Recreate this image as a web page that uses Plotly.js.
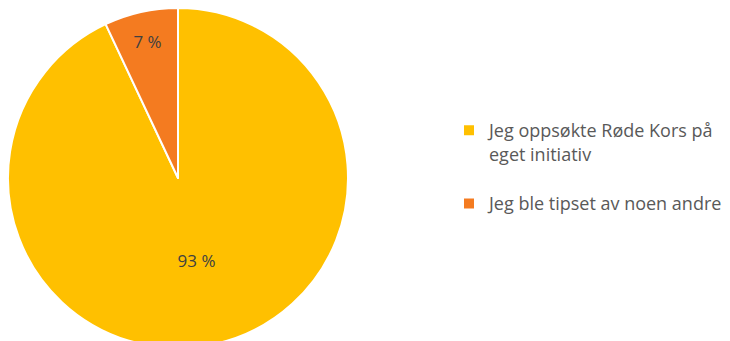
<!DOCTYPE html>
<html>
<head>
<meta charset="utf-8">
<script src="https://cdn.plot.ly/plotly-3.0.1.min.js"></script>
<style>html,body{margin:0;padding:0;overflow:hidden;background:#fff;}</style>
</head>
<body>
<div id="chart" style="width:730px;height:356px;"></div>
<script>
const labels = ["Jeg oppsøkte Røde Kors på<br>eget initiativ<br> ", "Jeg ble tipset av noen andre"];
const values = [93, 7];
const colors = ["#FFC000", "#F47B20"];
const W = 730, H = 356;
const trace = {
  type: "pie",
  labels: labels,
  values: values,
  sort: false,
  direction: "clockwise",
  rotation: 0,
  marker: {colors: colors, line: {color: "#ffffff", width: 2}},
  texttemplate: values.map(v => v + " %"),
  textposition: "inside",
  insidetextorientation: "horizontal",
  textfont: {family: "Open Sans, sans-serif", size: 17, color: "#404040"},
  hoverinfo: "label+percent",
  domain: {x: [8 / W, 348 / W], y: [1 - 348 / H, 1 - 8 / H]}
};
const layout = {
  width: W, height: H,
  margin: {l: 0, r: 0, t: 0, b: 0},
  paper_bgcolor: "#ffffff",
  showlegend: true,
  legend: {
    x: 449 / W, y: 1 - 112 / H, xanchor: "left", yanchor: "top",
    valign: "top",
    font: {family: "Open Sans, sans-serif", size: 18, color: "#595959"},
    itemwidth: 30
  }
};
Plotly.newPlot("chart", [trace], layout, {displayModeBar: false, staticPlot: true});
</script>
</body>
</html>
